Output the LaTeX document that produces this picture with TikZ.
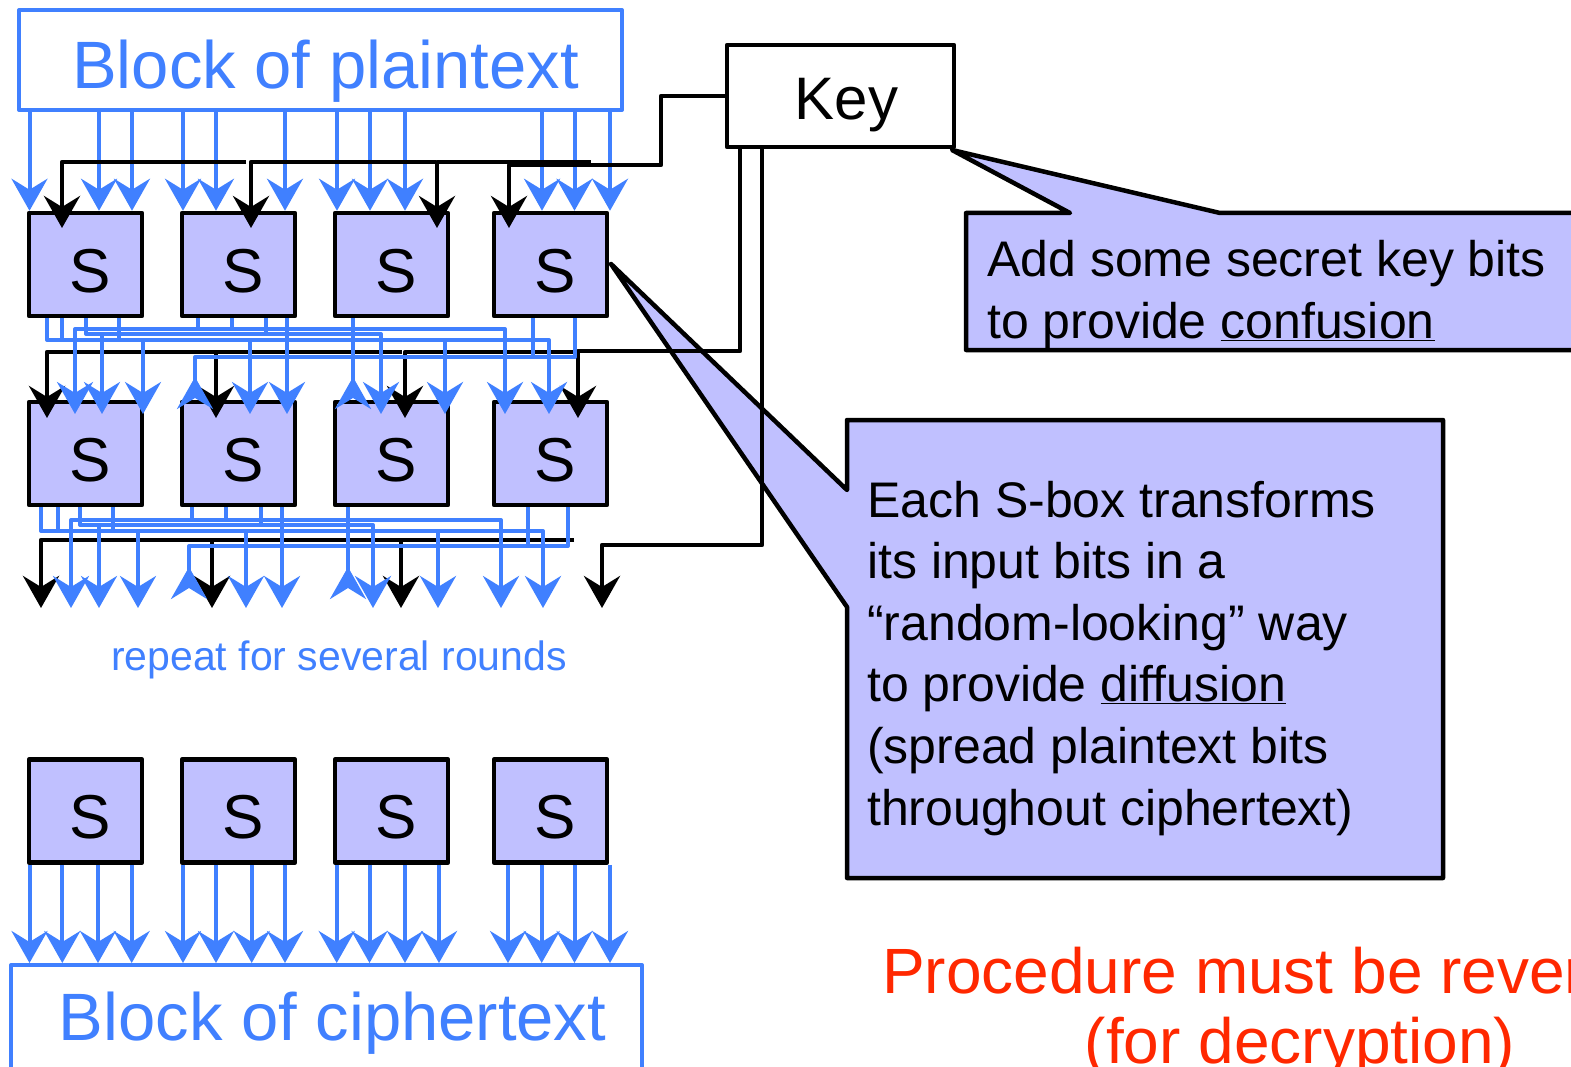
\documentclass[tikz,border=0pt]{standalone}
\usepackage{fontspec}
\setmainfont{Liberation Sans}
\usetikzlibrary{arrows.meta}
\definecolor{wireblue}{RGB}{64,128,255}
\definecolor{sboxfill}{RGB}{192,192,255}
\definecolor{warnred}{RGB}{255,40,0}
\newcommand{\titlefont}{\fontsize{67}{80}\selectfont}
\newcommand{\keyfont}{\fontsize{60}{72}\selectfont}
\newcommand{\sboxfont}{\fontsize{62}{72}\selectfont}
\newcommand{\notefont}{\fontsize{50}{61.6}\selectfont}
\newcommand{\roundfont}{\fontsize{41}{49}\selectfont}
\newcommand{\redfont}{\fontsize{64}{70}\selectfont}

\begin{document}
\begin{tikzpicture}[x=1pt,y=-1pt,line join=round]
    \tikzstyle{every node}=[inner sep=0pt]
    \tikzstyle{sbox}=[draw,line width=4.5pt,fill=sboxfill,minimum width=113pt,
                      minimum height=103pt,font=\sboxfont,text height=55pt,text depth=0pt]
    \tikzstyle{bitwire}=[wireblue,line width=4pt]
    \tikzstyle{bitarrow}=[bitwire,-{Stealth[length=32pt,width=36pt,inset=11pt]}]
    \tikzstyle{backarrow}=[bitwire,-{Stealth[length=32pt,width=36pt,inset=11pt,reversed]}]
    \tikzstyle{keywire}=[black,line width=4.5pt]
    \tikzstyle{keyarrow}=[keywire,-{Stealth[length=32pt,width=36pt,inset=11pt]}]
    \tikzstyle{notebox}=[draw,line width=4.5pt,fill=sboxfill]

    \useasboundingbox (0,0) rectangle (1571,1067);
    \clip (0,0) rectangle (1571,1067);

    % The two notes come first, so that the key wires run over them
    \draw[notebox] (966,350) -- (966,213) -- (1070,213) -- (952,150) -- (1220,213)
        -- (1600,213) -- (1600,350) -- cycle;
    \draw[notebox] (847,878) -- (847,607) -- (611,264) -- (847,490) -- (847,420)
        -- (1443,420) -- (1443,878) -- cycle;
    % (a node of several lines sits on the baseline of its last line)
    \node (conf) [anchor=base west,align=left,font=\notefont] at (987,338)
        {Add some secret key bits\\to provide \underline{confusion}};
    \node (diff) [anchor=base west,align=left,font=\notefont] at (867,825)
        {Each S-box transforms\\its input bits in a\\“random-looking” way\\to provide \underline{diffusion}\\(spread plaintext bits\\throughout ciphertext)};
    \node (rev) [anchor=base,align=center,font=\redfont,text=warnred] at (1300,1063)
        {Procedure must be reversible\\(for decryption)};

    % Plaintext, key and ciphertext blocks
    \node (pt) [draw=wireblue,line width=4pt,fill=white,minimum width=603pt,minimum height=100pt,
        font=\titlefont,text=wireblue,text height=58pt,text depth=0pt] at (320.5,60) {\hspace*{10pt}Block of plaintext};
    \node (key) [draw,line width=4.5pt,fill=white,minimum width=227pt,minimum height=102pt,
        font=\keyfont,text height=48pt,text depth=0pt] at (840.5,96) {\hspace*{12pt}Key};
    \node (ct) [draw=wireblue,line width=4pt,fill=white,minimum width=631pt,minimum height=130pt,
        font=\titlefont,text=wireblue,text height=20pt,text depth=0pt] at (326.5,1030) {\hspace*{12pt}Block of ciphertext};

    % Three rows of S-boxes
    \node (s11) [sbox] at (85.5,264.5) {\hspace*{9pt}S};  \node (s12) [sbox] at (238.5,264.5) {\hspace*{9pt}S};
    \node (s13) [sbox] at (391.5,264.5) {\hspace*{9pt}S}; \node (s14) [sbox] at (550.5,264.5) {\hspace*{9pt}S};
    \node (s21) [sbox] at (85.5,453.5) {\hspace*{9pt}S};  \node (s22) [sbox] at (238.5,453.5) {\hspace*{9pt}S};
    \node (s23) [sbox] at (391.5,453.5) {\hspace*{9pt}S}; \node (s24) [sbox] at (550.5,453.5) {\hspace*{9pt}S};
    \node (s31) [sbox] at (85.5,811) {\hspace*{9pt}S};    \node (s32) [sbox] at (238.5,811) {\hspace*{9pt}S};
    \node (s33) [sbox] at (391.5,811) {\hspace*{9pt}S};   \node (s34) [sbox] at (550.5,811) {\hspace*{9pt}S};

    \node (rounds) [font=\roundfont,text=wireblue] at (339,660) {repeat for several rounds};

    % Plaintext bits into the first row
    \draw[bitarrow] (29.5,0 |- pt.south) -- (29.5,0 |- s11.north);
    \draw[bitarrow] (99,0 |- pt.south) -- (99,0 |- s11.north);
    \draw[bitarrow] (132,0 |- pt.south) -- (132,0 |- s11.north);
    \draw[bitarrow] (183,0 |- pt.south) -- (183,0 |- s12.north);
    \draw[bitarrow] (216,0 |- pt.south) -- (216,0 |- s12.north);
    \draw[bitarrow] (285,0 |- pt.south) -- (285,0 |- s12.north);
    \draw[bitarrow] (337,0 |- pt.south) -- (337,0 |- s13.north);
    \draw[bitarrow] (370,0 |- pt.south) -- (370,0 |- s13.north);
    \draw[bitarrow] (405,0 |- pt.south) -- (405,0 |- s13.north);
    \draw[bitarrow] (542,0 |- pt.south) -- (542,0 |- s14.north);
    \draw[bitarrow] (574.5,0 |- pt.south) -- (574.5,0 |- s14.north);
    \draw[bitarrow] (610,0 |- pt.south) -- (610,0 |- s14.north);

    % Key bits into each row
    \draw[keyarrow] (key.west) -| (661,165) -| (509,228);
    \draw[keyarrow] (246,162) -| (62,228);
    \draw[keyarrow] (436,162) -| (251,228);
    \draw[keyarrow] (591,162) -| (437,228);
    \draw[keyarrow] (key.south -| 740,0) |- (578,351) -- (578,418);
    \draw[keyarrow] (402,352) -| (47,418);
    \draw[keyarrow] (216,352) -- (216,418);
    \draw[keyarrow] (578,352) -| (405,418);
    \draw[keyarrow] (key.south -| 762,0) |- (602,545) -- (602,608);
    \draw[keyarrow] (574,540) -| (41,608);
    \draw[keyarrow] (212,540) -- (212,608);
    \draw[keyarrow] (401,540) -- (401,608);

    % Mixing the bits between the first and second row
    \draw[bitarrow] (47,0 |- s11.south) |- (549,340) -- (549,414);
    \draw[bitwire] (62,0 |- s11.south) -- (62,340);
    \draw[bitwire] (119,0 |- s11.south) -- (119,340);
    \draw[bitarrow] (143,340) -- (143,414);
    \draw[bitarrow] (250,340) -- (250,414);
    \draw[bitarrow] (445,340) -- (445,414);
    \draw[bitarrow] (86,0 |- s11.south) |- (381,334) -- (381,414);
    \draw[bitwire] (266,0 |- s12.south) -- (266,334);
    \draw[bitarrow] (102,334) -- (102,414);
    \draw[bitarrow] (198,0 |- s12.south) |- (75,329) -- (75,414);
    \draw[bitarrow] (198,329) -| (505,414);
    \draw[bitwire] (232,0 |- s12.south) -- (232,329);
    \draw[bitarrow] (287,0 |- s12.south) -- (287,414);
    \draw[backarrow] (533,0 |- s14.south) |- (195,357) -- (195,409);
    \draw[bitwire] (575,0 |- s14.south) |- (533,357);
    \draw[backarrow] (353,0 |- s13.south) -- (353,409);

    % And again below the second row
    \draw[bitarrow] (41,0 |- s21.south) |- (543,531) -- (543,608);
    \draw[bitwire] (58,0 |- s21.south) -- (58,531);
    \draw[bitwire] (113,0 |- s21.south) -- (113,531);
    \draw[bitarrow] (138,531) -- (138,608);
    \draw[bitarrow] (246,531) -- (246,608);
    \draw[bitarrow] (438,531) -- (438,608);
    \draw[bitarrow] (80,0 |- s21.south) |- (373,525) -- (373,608);
    \draw[bitwire] (261,0 |- s22.south) -- (261,525);
    \draw[bitarrow] (99,525) -- (99,608);
    \draw[bitarrow] (192,0 |- s22.south) |- (71,520) -- (71,608);
    \draw[bitarrow] (192,520) -| (501,608);
    \draw[bitwire] (226,0 |- s22.south) -- (226,520);
    \draw[bitarrow] (282,0 |- s22.south) -- (282,608);
    \draw[backarrow] (528,0 |- s24.south) |- (189,546) -- (189,599);
    \draw[bitwire] (568,0 |- s24.south) |- (528,546);
    \draw[backarrow] (348,0 |- s23.south) -- (348,599);

    % Last row into the ciphertext
    \draw[bitarrow] (29.5,0 |- s31.south) -- (29.5,0 |- ct.north);
    \draw[bitarrow] (62.3,0 |- s31.south) -- (62.3,0 |- ct.north);
    \draw[bitarrow] (98,0 |- s31.south) -- (98,0 |- ct.north);
    \draw[bitarrow] (131.7,0 |- s31.south) -- (131.7,0 |- ct.north);
    \draw[bitarrow] (183,0 |- s32.south) -- (183,0 |- ct.north);
    \draw[bitarrow] (216,0 |- s32.south) -- (216,0 |- ct.north);
    \draw[bitarrow] (251.7,0 |- s32.south) -- (251.7,0 |- ct.north);
    \draw[bitarrow] (285,0 |- s32.south) -- (285,0 |- ct.north);
    \draw[bitarrow] (336.7,0 |- s33.south) -- (336.7,0 |- ct.north);
    \draw[bitarrow] (369.5,0 |- s33.south) -- (369.5,0 |- ct.north);
    \draw[bitarrow] (405,0 |- s33.south) -- (405,0 |- ct.north);
    \draw[bitarrow] (439,0 |- s33.south) -- (439,0 |- ct.north);
    \draw[bitarrow] (508,0 |- s34.south) -- (508,0 |- ct.north);
    \draw[bitarrow] (541.7,0 |- s34.south) -- (541.7,0 |- ct.north);
    \draw[bitarrow] (574.5,0 |- s34.south) -- (574.5,0 |- ct.north);
    \draw[bitarrow] (610,0 |- s34.south) -- (610,0 |- ct.north);

\end{tikzpicture}
\end{document}
